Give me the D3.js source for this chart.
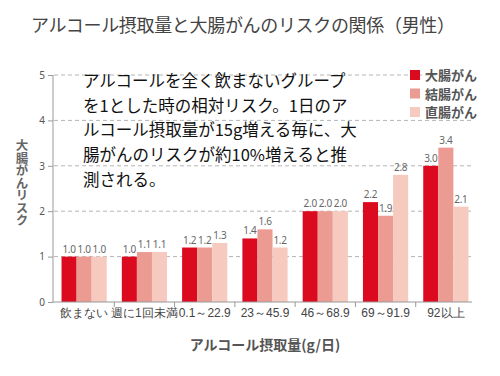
<!DOCTYPE html>
<html>
<head>
<meta charset="utf-8">
<script src="https://cdn.jsdelivr.net/npm/d3@7"></script>
<style>
  body { margin: 0; background: #fff; }
  svg { font-family: "Noto Sans CJK JP", "Noto Sans", sans-serif; }
</style>
</head>
<body>
<div id="chart"></div>
<script>
// data
var categories = ["飲まない", "週に1回未満", "0.1～22.9", "23～45.9", "46～68.9", "69～91.9", "92以上"]
var seriesNames = ["大腸がん", "結腸がん", "直腸がん"]
var daichou = [1.0, 1.0, 1.2, 1.4, 2.0, 2.2, 3.0]
var ketchou = [1.0, 1.1, 1.2, 1.6, 2.0, 1.9, 3.4]
var chokuchou = [1.0, 1.1, 1.3, 1.2, 2.0, 2.8, 2.1]
var yTicks = [0, 1, 2, 3, 4, 5]
var noteLines = [
  "アルコールを全く飲まないグループ",
  "を1とした時の相対リスク。1日のア",
  "ルコール摂取量が15g増える毎に、大",
  "腸がんのリスクが約10%増えると推",
  "測される。"
]

var width = 500
var height = 376
var colors = ["#dc0a1e", "#ec9b93", "#f6cabf"]

var svg = d3.select("#chart").append("svg")
  .attr("width", width)
  .attr("height", height)

// title
svg.append("text")
  .attr("x", 31)
  .attr("y", 32)
  .attr("fill", "#444")
  .style("font-size", "18px")
  .attr("textLength", 424)
  .text("アルコール摂取量と大腸がんのリスクの関係（男性）")

// scales
var y = d3.scaleLinear().domain([0, 5]).range([302, 75])
var x0 = d3.scaleBand().domain(categories).range([54, 476]).paddingInner(0.25).paddingOuter(0.125)
var x1 = d3.scaleBand().domain(seriesNames).range([0, x0.bandwidth()])

var rows = categories.map(function(c, i) {
  return { cat: c, values: [daichou[i], ketchou[i], chokuchou[i]] }
})

// grid lines
svg.append("g").selectAll("line")
  .data(yTicks.filter(function(d) { return d > 0 }))
  .join("line")
  .attr("x1", 54).attr("x2", 472)
  .attr("y1", function(d) { return y(d) }).attr("y2", function(d) { return y(d) })
  .attr("stroke", "#b4b4b4")
  .attr("stroke-dasharray", "4,3")

// y axis
var yAxis = svg.append("g")
  .attr("transform", "translate(53,0)")
  .call(d3.axisLeft(y).tickValues(yTicks).tickSize(5).tickPadding(3).tickFormat(d3.format("d")))
yAxis.select(".domain").attr("stroke", "#999").attr("d", "M0," + y(5) + "V" + y(0))
yAxis.selectAll(".tick line").attr("stroke", "#999")
yAxis.selectAll(".tick text").attr("fill", "#555").style("font-size", "10px").style("font-family", "Noto Sans")

// bars
var groups = svg.append("g").selectAll("g")
  .data(rows)
  .join("g")
  .attr("transform", function(d) { return "translate(" + x0(d.cat) + ",0)" })

groups.selectAll("rect")
  .data(function(d) { return d.values.map(function(v, i) { return { key: seriesNames[i], value: v, i: i } }) })
  .join("rect")
  .attr("x", function(d) { return x1(d.key) })
  .attr("y", function(d) { return y(d.value) })
  .attr("width", x1.bandwidth())
  .attr("height", function(d) { return y(0) - y(d.value) })
  .attr("fill", function(d) { return colors[d.i] })

groups.selectAll("text.val")
  .data(function(d) { return d.values.map(function(v, i) { return { key: seriesNames[i], value: v } }) })
  .join("text")
  .attr("class", "val")
  .attr("x", function(d) { return x1(d.key) + x1.bandwidth() / 2 })
  .attr("y", function(d) { return y(d.value) - 4 })
  .attr("text-anchor", "middle")
  .attr("fill", "#666")
  .style("font-size", "10px")
  .style("font-family", "Noto Sans")
  .style("letter-spacing", "-0.3px")
  .text(function(d) { return d3.format(".1f")(d.value) })

// x axis
var xAxis = svg.append("g")
  .attr("transform", "translate(0,302)")
  .call(d3.axisBottom(x0).tickSize(0).tickPadding(6))
xAxis.select(".domain").attr("stroke", "#999").attr("d", "M53,0H472")
xAxis.selectAll(".tick text").attr("fill", "#444").style("font-size", "12px")

// group separators
svg.append("g").selectAll("line")
  .data(categories.slice(1))
  .join("line")
  .attr("x1", function(d) { return x0(d) - x0.step() * 0.125 })
  .attr("x2", function(d) { return x0(d) - x0.step() * 0.125 })
  .attr("y1", 302).attr("y2", 307)
  .attr("stroke", "#999")

// axis titles
svg.append("text")
  .attr("x", 265)
  .attr("y", 350)
  .attr("text-anchor", "middle")
  .attr("fill", "#555")
  .style("font-size", "14px")
  .style("font-weight", "bold")
  .text("アルコール摂取量(g/日)")

svg.append("text")
  .attr("transform", "translate(22,139)")
  .attr("fill", "#666")
  .style("font-size", "12.5px")
  .style("font-weight", "bold")
  .style("writing-mode", "vertical-rl")
  .text("大腸がんリスク")

// note
svg.append("g").selectAll("text")
  .data(noteLines)
  .join("text")
  .attr("x", 83)
  .attr("y", function(d, i) { return 87 + i * 24.7 })
  .attr("fill", "#111")
  .style("font-size", "16.5px")
  .text(function(d) { return d })

// legend
var legend = svg.append("g").selectAll("g")
  .data(seriesNames)
  .join("g")
  .attr("transform", function(d, i) { return "translate(410," + (70 + i * 18.5) + ")" })
legend.append("rect")
  .attr("width", 10).attr("height", 10)
  .attr("fill", function(d, i) { return colors[i] })
legend.append("text")
  .attr("x", 15).attr("y", 10)
  .attr("fill", "#555")
  .style("font-size", "13px")
  .style("font-weight", "bold")
  .text(function(d) { return d })
</script>
</body>
</html>
